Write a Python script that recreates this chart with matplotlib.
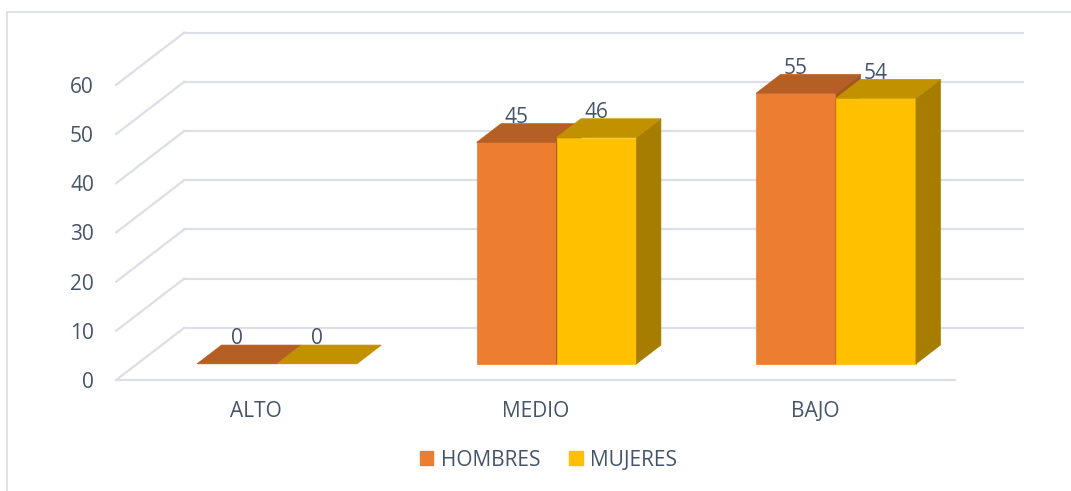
import matplotlib.pyplot as plt
from matplotlib.patches import Polygon, Patch, Rectangle

categories = ["ALTO", "MEDIO", "BAJO"]
hombres = [0, 45, 55]
mujeres = [0, 46, 54]
y_ticks = [0, 10, 20, 30, 40, 50, 60]

TXT = "#44546A"
GRID = "#DCDFE6"
series = [
    ("HOMBRES", hombres, "#ED7D31", "#B65F24", "#A3561F"),
    ("MUJERES", mujeres, "#FFC000", "#C29100", "#A67D00"),
]

# fake 3d: depth vector in data units (x, value)
DX, DV = 0.243, 10.6
Z0, Z1 = 0.31, 0.67      # bar front / back as fraction of floor depth
BW = 0.286               # width of one bar
FS = 15

plt.rcParams["font.family"] = ["Open Sans", "DejaVu Sans"]
fig = plt.figure(figsize=(10.71, 4.91), dpi=100)
ax = fig.add_axes([105 / 1071, 0, 966 / 1071, 1])
ax.set_xlim(-0.540, 2.916)
ax.set_ylim(-22.56, 77.24)
for s in ax.spines.values():
    s.set_visible(False)
ax.set_xticks([])
ax.set_yticks(y_ticks)
ax.tick_params(axis="y", length=0, pad=8, labelsize=FS, labelcolor=TXT)


def proj(x, v, z):
    return (x + z * DX, v + z * DV)


x0, x1 = -0.5, len(categories) - 0.5
# back wall and left wall lines
for t in y_ticks:
    ax.plot(*zip(proj(x0, t, 1), proj(x1, t, 1)), color=GRID, lw=1.6, zorder=1)
    ax.plot(*zip(proj(x0, t, 0), proj(x0, t, 1)), color=GRID, lw=1.6, zorder=1)
ax.plot(*zip(proj(x0, 0, 0), proj(x1, 0, 0)), color=GRID, lw=1.6, zorder=1)

for i, cat in enumerate(categories):
    for j, (name, vals, front, top, side) in enumerate(series):
        v = vals[i]
        xl = i - BW + j * BW
        xr = xl + BW
        z = 10 + j
        if v > 0:
            ax.add_patch(Polygon([proj(xl, 0, Z0), proj(xr, 0, Z0), proj(xr, v, Z0), proj(xl, v, Z0)],
                                 closed=True, fc=front, ec=front, lw=0.5, zorder=z))
            ax.add_patch(Polygon([proj(xr, 0, Z0), proj(xr, 0, Z1), proj(xr, v, Z1), proj(xr, v, Z0)],
                                 closed=True, fc=side, ec=side, lw=0.5, zorder=z))
        ax.add_patch(Polygon([proj(xl, v, Z0), proj(xr, v, Z0), proj(xr, v, Z1), proj(xl, v, Z1)],
                             closed=True, fc=top, ec=top, lw=0.5, zorder=z))
        lx, lv = proj((xl + xr) / 2, v, Z0)
        ax.text(lx, lv + 5.1, str(v), ha="center", va="center", fontsize=FS, color=TXT, zorder=20)
    ax.text(i, -6.3, cat, ha="center", va="center", fontsize=FS, color=TXT)

handles = [Patch(color=s[2], label=s[0]) for s in series]
fig.legend(handles=handles, loc="center", bbox_to_anchor=(0.512, 1 - 460 / 491), ncol=2,
           frameon=False, fontsize=FS, labelcolor=TXT, handlelength=0.65, handleheight=0.65,
           handletextpad=0.35, columnspacing=1.4)

fig.patches.append(Rectangle((7 / 1071, -0.1), 1.2, 1.1 - 12 / 491, transform=fig.transFigure,
                             fill=False, ec="#D9DDE3", lw=1.2))

fig.savefig("out.png", dpi=100)
